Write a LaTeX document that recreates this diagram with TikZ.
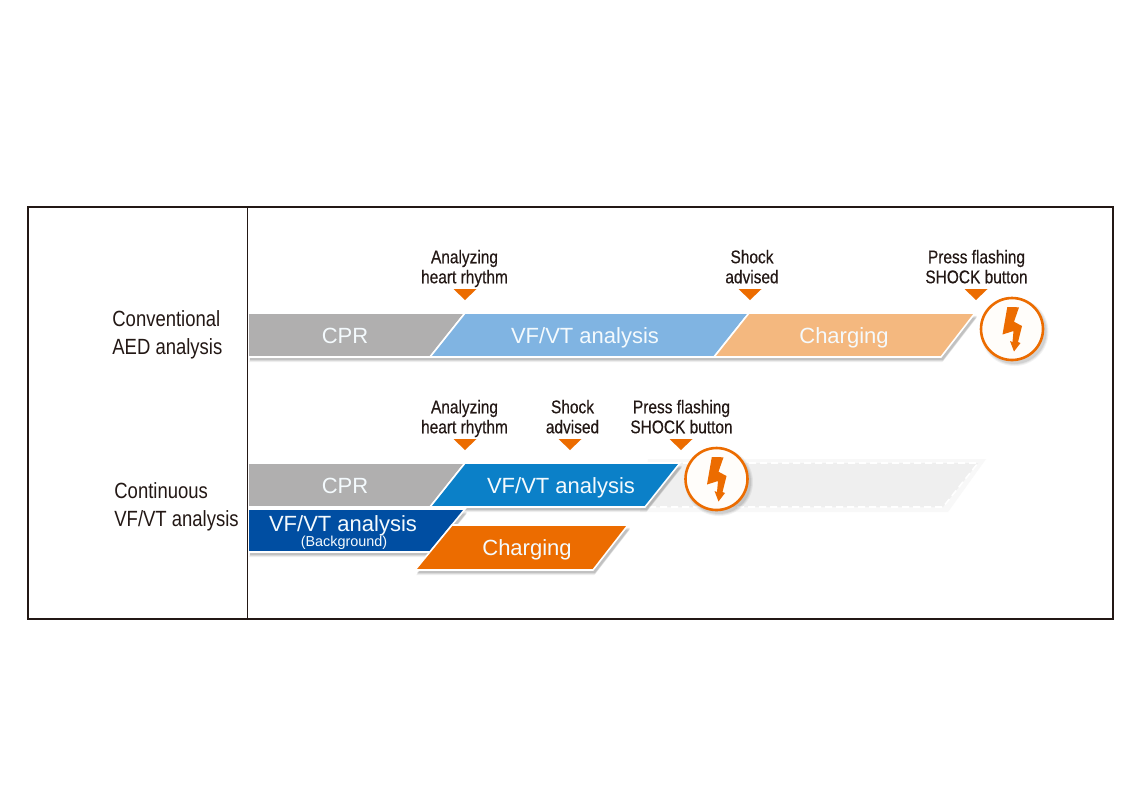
\documentclass[tikz,border=0pt]{standalone}
\usepackage{fontspec}
\setmainfont{Liberation Sans}
\newfontfamily\narrowfont[FakeStretch=0.84,FakeBold=0.35]{Liberation Sans}
\newfontfamily\thinfont[FakeStretch=0.84]{Liberation Sans}
\definecolor{inkc}{HTML}{231815}
\definecolor{greyc}{HTML}{B0AFAF}
\definecolor{lightblue}{HTML}{80B4E2}
\definecolor{lightorange}{HTML}{F4B87F}
\definecolor{midblue}{HTML}{0B80C8}
\definecolor{darkblue}{HTML}{004EA2}
\definecolor{orangec}{HTML}{EC6C00}
\definecolor{ghostc}{HTML}{EFEFEF}
\definecolor{ghostglow}{HTML}{F8F8F8}
\definecolor{bartext}{HTML}{F4FAFD}
\definecolor{circlefill}{HTML}{FFFDFA}
\tikzset{
  x=0.5pt,y=-0.5pt,
  barbox/.style={draw=white,line width=0.8pt,line join=miter},
  bartxt/.style={text=bartext,font=\fontsize{11}{13}\selectfont,inner sep=0pt,anchor=base},
  toplabel/.style={text=inkc,font=\narrowfont\fontsize{9.2}{10}\selectfont,align=center,inner sep=0pt},
  sidelabel/.style={text=inkc,font=\thinfont\fontsize{11}{14.2}\selectfont,align=left,anchor=west,inner sep=0pt},
  marker/.style={fill=orangec,draw=none},
  shocksym/.style={fill=circlefill,draw=orangec,line width=1.3pt},
  boltsym/.style={fill=orangec,draw=none}
}
\newcommand{\softshadow}[1]{%
  \foreach \sx/\sy/\so in {0.5/-2.6/.05,1/-2.2/.06,1/-1.8/.07,1/-1.4/.08}{
    \fill[black,opacity=\so,xshift=\sx pt,yshift=\sy pt] #1;
  }}
\newcommand{\tri}[2]{\fill[marker] (#1-11.5,#2) -- (#1+11.5,#2) -- (#1,#2+11) -- cycle;}
\newcommand{\shockmark}[2]{%
  \begin{scope}[shift={(#1,#2)}]
    \foreach \sr/\so in {34/.05,33/.06,32/.08}{\fill[black,opacity=\so] (2.5,3) circle[radius=\sr];}
    \draw[shocksym] (0,0) circle[radius=31];
    \fill[boltsym] (-4.7,-22) -- (7,-21.7) -- (2,-7.3) -- (10,-3) -- (6,13) -- (8.5,14) -- (2,22.5) -- (-2,12) -- (0.5,13) -- (1.5,2) -- (-9.5,5.5) -- cycle;
  \end{scope}}
\begin{document}
\begin{tikzpicture}
\useasboundingbox (0,0) rectangle (1140,800);
\fill[white] (0,0) rectangle (1140,800);

% ghost bar
\fill[ghostglow] (648,459) -- (986,459) -- (948,512) -- (640,512) -- cycle;
\fill[ghostc] (650,463) -- (978,463) -- (943,507) -- (645,507) -- cycle;
\draw[white,line width=0.8pt,dash pattern=on 3.5pt off 2pt] (650,463) -- (978,463) -- (943,507) -- (645,507);

% row 1 bars
\softshadow{(248,313) -- (975,313) -- (941,357) -- (248,357) -- cycle}
\filldraw[barbox,fill=greyc] (248,313) -- (465,313) -- (430,357) -- (248,357) -- cycle;
\filldraw[barbox,fill=lightblue] (465,313) -- (749,313) -- (714,357) -- (430,357) -- cycle;
\filldraw[barbox,fill=lightorange] (749,313) -- (975,313) -- (941,357) -- (714,357) -- cycle;

% row 2 bars
\softshadow{(248,509) -- (465,509) -- (430,552) -- (248,552) -- cycle}
\softshadow{(452,525) -- (628,525) -- (593,570) -- (415,570) -- cycle}
\softshadow{(248,463) -- (680,463) -- (645,507) -- (248,507) -- cycle}
\filldraw[barbox,fill=darkblue] (248,509) -- (465,509) -- (430,552) -- (248,552) -- cycle;
\filldraw[barbox,fill=orangec] (452,525) -- (628,525) -- (593,570) -- (415,570) -- cycle;
\filldraw[barbox,fill=greyc] (248,463) -- (465,463) -- (430,507) -- (248,507) -- cycle;
\filldraw[barbox,fill=midblue] (465,463) -- (680,463) -- (645,507) -- (430,507) -- cycle;

% frame and divider
\draw[inkc,line width=1pt] (28,207) rectangle (1113,619);
\draw[inkc,line width=0.5pt] (247,207) -- (247,619);

% markers
\tri{465}{289}\tri{750}{289}\tri{976}{289}
\tri{465}{439}\tri{570}{439}\tri{681}{439}

% shock symbols
\shockmark{1012}{329}
\shockmark{716.5}{479}

% bar texts
\node[bartxt] (cpra) at (345,343) {CPR};
\node[bartxt] (vfa) at (585,343) {VF/VT analysis};
\node[bartxt] (chargea) at (844,343) {Charging};
\node[bartxt] (cprb) at (345,493) {CPR};
\node[bartxt] (vfb) at (561,493) {VF/VT analysis};
\node[bartxt] (vfbg) at (343,531) {VF/VT analysis};
\node[bartxt,font=\fontsize{7.2}{9}\selectfont] (bgtag) at (344,546) {(Background)};
\node[bartxt] (chargeb) at (527,555) {Charging};

% top labels
\node[toplabel] (la) at (464.5,268.5) {Analyzing\\heart rhythm};
\node[toplabel] (lb) at (752,268.5) {Shock\\advised\vphantom{y}};
\node[toplabel] (lc) at (976.5,268.5) {Press flashing\\SHOCK button\vphantom{y}};
\node[toplabel] (ld) at (464.5,418.5) {Analyzing\\heart rhythm};
\node[toplabel] (le) at (572.5,418.5) {Shock\\advised\vphantom{y}};
\node[toplabel] (lf) at (681.5,418.5) {Press flashing\\SHOCK button\vphantom{y}};

% side labels
\node[sidelabel] (sa) at (112,335) {Conventional\\AED analysis};
\node[sidelabel] (sb) at (114,507) {Continuous\\VF/VT analysis};
\end{tikzpicture}
\end{document}
